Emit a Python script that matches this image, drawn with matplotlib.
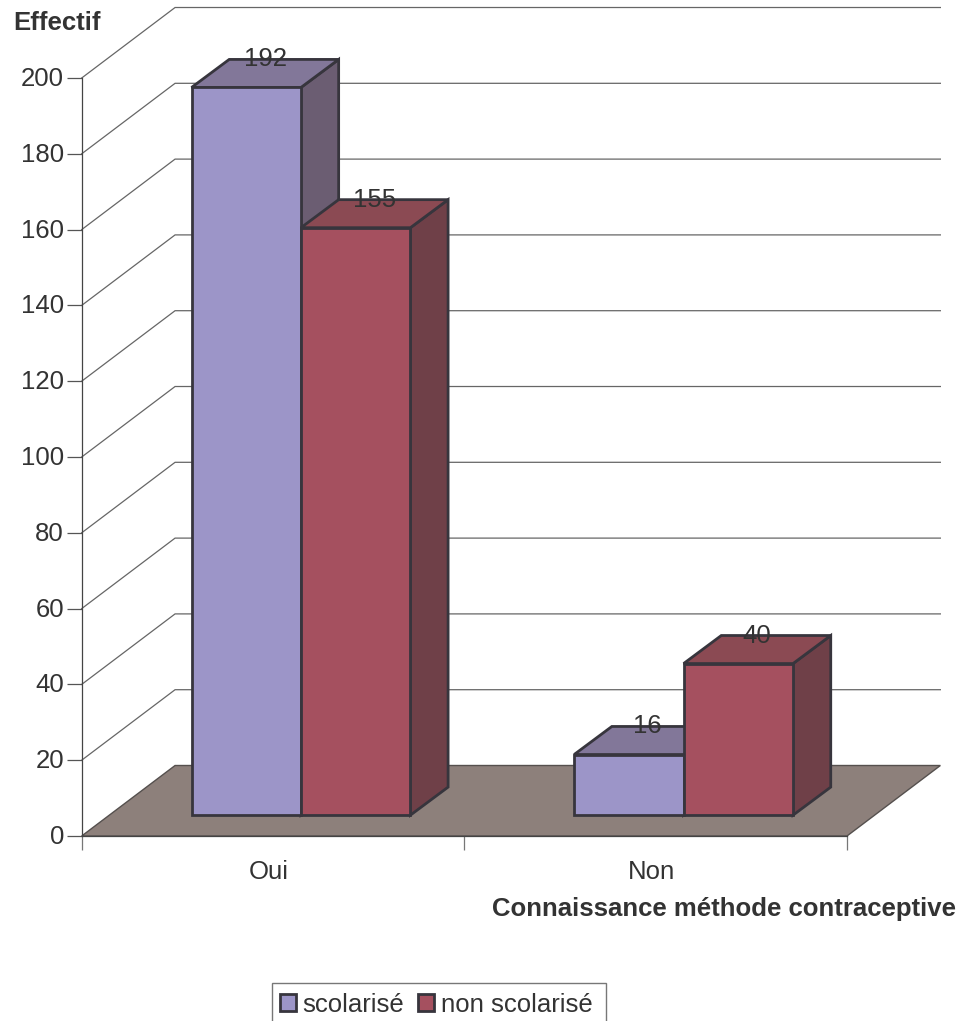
import matplotlib
matplotlib.use("Agg")
import matplotlib.pyplot as plt
from matplotlib.patches import Polygon, Patch, Rectangle
from matplotlib.transforms import ScaledTranslation

plt.rcParams["font.family"] = ["Liberation Sans", "DejaVu Sans"]

# Chart data
categories = ["Oui", "Non"]
series_names = ["scolarisé", "non scolarisé"]
scolarise = [192, 16]
non_scolarise = [155, 40]
y_ticks = list(range(0, 201, 20))

# Styling
front_colors = ["#9c95c8", "#a5505f"]
top_colors = ["#827799", "#8b4a53"]
side_colors = ["#6b5d72", "#6f4048"]
FLOOR = "#8d807b"
EDGE = "#37353d"
TEXT = "#333333"
GRID = "#666666"
FONT_SIZE = 18.5

# 3D projection in data units: category width on x, effectif on y
WALL_DX, WALL_DY = 0.244, 18.6
BAR_DX, BAR_DY = 0.0985, 7.4
BAR_BASE = 5.5
BAR_START = 0.287
BAR_WIDTH = 0.286

W, H = 968, 1021
fig = plt.figure(figsize=(W / 100, H / 100), dpi=100, facecolor="white")
left, right, top, bottom = 81.7, 847.0, 78.0, 836.0
ax = fig.add_axes([left / W, 1 - bottom / H, (right - left) / W, (bottom - top) / H])
ax.set_xlim(0, len(categories))
ax.set_ylim(0, 200)
ax.patch.set_visible(False)
for side in ("top", "right"):
    ax.spines[side].set_visible(False)
for side in ("left", "bottom"):
    ax.spines[side].set_color("#444444")
    ax.spines[side].set_linewidth(0.9)
    ax.spines[side].set_zorder(6)

# Walls: a diagonal from the axis and a horizontal along the back for each tick
for v in y_ticks[1:]:
    ax.plot([0, WALL_DX, 2 + WALL_DX], [v, v + WALL_DY, v + WALL_DY],
            color=GRID, lw=0.9, clip_on=False, zorder=1, solid_joinstyle="miter")

# Floor
ax.add_patch(Polygon([(0, 0), (2, 0), (2 + WALL_DX, WALL_DY), (WALL_DX, WALL_DY)],
                     closed=True, facecolor=FLOOR, edgecolor="#55504e", lw=1.0,
                     clip_on=False, zorder=2))


def draw_bar(x0, value, s):
    """Draw one extruded bar: side face, top face, then front face."""
    x1 = x0 + BAR_WIDTH
    y0, y1 = BAR_BASE, BAR_BASE + value
    faces = [
        ([(x1, y0), (x1 + BAR_DX, y0 + BAR_DY), (x1 + BAR_DX, y1 + BAR_DY), (x1, y1)], side_colors[s]),
        ([(x0, y1), (x1, y1), (x1 + BAR_DX, y1 + BAR_DY), (x0 + BAR_DX, y1 + BAR_DY)], top_colors[s]),
        ([(x0, y0), (x1, y0), (x1, y1), (x0, y1)], front_colors[s]),
    ]
    for pts, color in faces:
        ax.add_patch(Polygon(pts, closed=True, facecolor=color, edgecolor=EDGE, lw=2.0,
                             joinstyle="miter", clip_on=False, zorder=3))


for i in range(len(categories)):
    for s, values in enumerate((scolarise, non_scolarise)):
        draw_bar(i + BAR_START + s * BAR_WIDTH, values[i], s)

# Value labels sit on the back edge of each bar's top face
for i in range(len(categories)):
    for s, values in enumerate((scolarise, non_scolarise)):
        cx = i + BAR_START + s * BAR_WIDTH + BAR_WIDTH / 2 + BAR_DX / 2
        ax.text(cx, BAR_BASE + values[i] + BAR_DY, str(values[i]), ha="center", va="center",
                fontsize=FONT_SIZE, color=TEXT, zorder=5, clip_on=False)

# Axes ticks and labels
ax.set_yticks(y_ticks)
ax.tick_params(axis="y", length=10.8, width=0.9, color="#555555", labelcolor=TEXT,
               labelsize=FONT_SIZE, pad=2)
# Tick numbers sit slightly above their tick marks
nudge = ScaledTranslation(0, 0.015, fig.dpi_scale_trans)
for label in ax.get_yticklabels():
    label.set_transform(label.get_transform() + nudge)
ax.set_xticks(range(len(categories) + 1))
ax.set_xticklabels([])
ax.tick_params(axis="x", which="major", length=10, width=0.9, color="#777777")
ax.set_xticks([i + 0.49 for i in range(len(categories))], minor=True)
ax.set_xticklabels(categories, minor=True)
ax.tick_params(axis="x", which="minor", length=0, labelcolor=TEXT, labelsize=FONT_SIZE, pad=17)

fig.text(13 / W, 1 - 23.5 / H, "Effectif", fontsize=FONT_SIZE, fontweight="bold", color=TEXT,
         ha="left", va="center")
fig.text(956 / W, 1 - 909 / H, "Connaissance méthode contraceptive", fontsize=FONT_SIZE,
         fontweight="bold", color=TEXT, ha="right", va="center")

# Legend frame runs past the lower edge of the figure
fig.add_artist(Rectangle((272 / W, -0.02), (606 - 272) / W, 1 - 982.7 / H + 0.02,
                         transform=fig.transFigure, facecolor="white",
                         edgecolor="#777777", lw=1.0))
handles = [Patch(facecolor=front_colors[s], edgecolor=EDGE, lw=2.0) for s in range(2)]
fig.legend(handles, series_names, ncol=2, loc="upper left",
           bbox_to_anchor=(279.5 / W, 1 - 992.5 / H), bbox_transform=fig.transFigure,
           fontsize=FONT_SIZE, labelcolor=TEXT, frameon=False, borderaxespad=0, borderpad=0,
           handlelength=0.65, handleheight=0.65, handletextpad=0.24, columnspacing=0.53)

fig.savefig("out.png", dpi=100)
